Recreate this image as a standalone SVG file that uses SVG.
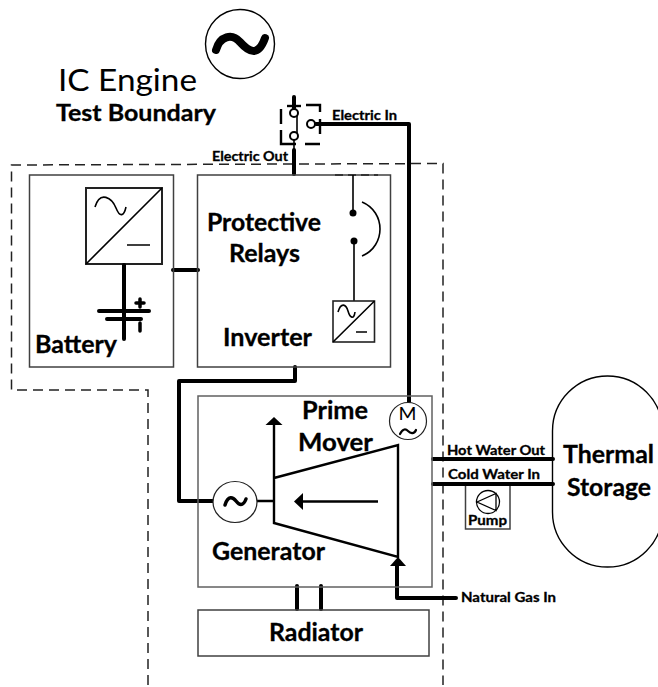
<svg xmlns="http://www.w3.org/2000/svg" width="658" height="687" viewBox="0 0 658 687">
<style>
text{font-family:Lato,"Open Sans",sans-serif;font-weight:700;fill:#000;stroke:#000;stroke-width:.3}
.box{fill:none;stroke:#404040;stroke-width:1.5}
.thin{fill:none;stroke:#000;stroke-width:1.6}
.med{fill:none;stroke:#000;stroke-width:2.4}
.thick{fill:none;stroke:#000;stroke-width:4;stroke-linejoin:round;stroke-linecap:round}
.dash{fill:none;stroke:#222;stroke-width:1.5;stroke-dasharray:10 6}
.t25{font-size:24px}
.t14{font-size:13.500px}
</style>
<rect width="658" height="687" fill="#fff"/>
<g id="boundary">
<path class="dash" d="M148 685V390H11.500V165L443 163.500V685"/>
</g>
<g id="connectors">
<path class="thick" d="M294 97V108"/>
<path class="med" d="M287 106H301"/>
<path class="thin" d="M297 113V136M294 140V149"/>
<path class="thick" d="M294 150V174"/>
<path class="thick" d="M316 124H409V403"/>
<path class="thick" d="M173 270H198"/>
<path class="thick" d="M295 367V381H179V501H213"/>
<path class="thick" d="M297 586V609M321 586V609"/>
<path class="thick" d="M397 566V598H456"/>
<path class="thick" d="M433 459H553M433 484H553"/>
</g>
<g id="ac-source">
<circle cx="240" cy="44" r="34.500" fill="none" stroke="#000" stroke-width="1.400"/>
<path d="M216 50C220 36 232 33 240 42S258 58 265 38" fill="none" stroke="#000" stroke-width="8" stroke-linecap="round"/>
</g>
<g id="title">
<text x="58" y="91" style="font-weight:400;font-size:31px;stroke-width:0" textLength="139" lengthAdjust="spacingAndGlyphs">IC Engine</text>
<text x="56" y="121" style="font-size:23px" textLength="160" lengthAdjust="spacingAndGlyphs">Test Boundary</text>
</g>
<g id="switch">
<path class="med" d="M281 109V124M281 130V144H296M305 144H320M320 134V119M320 112V105H306"/>
<circle cx="294" cy="113" r="4" fill="#fff" stroke="#000" stroke-width="2"/>
<circle cx="294" cy="136" r="4" fill="#fff" stroke="#000" stroke-width="2"/>
<circle cx="311" cy="124" r="4" fill="#fff" stroke="#000" stroke-width="2"/>
<text class="t14" x="332" y="120" textLength="65" lengthAdjust="spacingAndGlyphs">Electric In</text>
<text class="t14" x="212" y="161" textLength="76" lengthAdjust="spacingAndGlyphs">Electric Out</text>
</g>
<g id="battery">
<rect class="box" x="29.500" y="175" width="144" height="192"/>
<rect x="86" y="188" width="76" height="76" fill="none" stroke="#222" stroke-width="2"/>
<path class="thin" d="M86 264L162 188M127 245H150"/>
<path class="thin" d="M95 207C100 190 112 198 116 208S124 216 126 207"/>
<path class="thick" d="M124 265V339"/>
<path class="thick" d="M99 311H149M107 319H141"/>
<path d="M140 299V307M136 303H144M140 323V331" fill="none" stroke="#000" stroke-width="3.500" stroke-linecap="round"/>
<text class="t25" x="35" y="353" textLength="82" lengthAdjust="spacingAndGlyphs">Battery</text>
</g>
<g id="inverter">
<rect class="box" x="197.500" y="175" width="193" height="192"/>
<path d="M335 175H378" fill="none" stroke="#222" stroke-width="1.500" stroke-dasharray="8 5"/>
<path class="thin" d="M353 175V213M354 241V301M362 202C386 212 386 246 362 256"/>
<circle cx="353" cy="213" r="3.500"/>
<circle cx="354" cy="241" r="3.500"/>
<rect x="333" y="301" width="41.500" height="41" fill="none" stroke="#222" stroke-width="1.600"/>
<path class="thin" d="M333 342L374.500 301M356 332H367"/>
<path class="thin" d="M338 312C341 302 346 304 348 311S354 320 355 312"/>
<text class="t25" x="207" y="231" textLength="114" lengthAdjust="spacingAndGlyphs">Protective</text>
<text class="t25" x="229" y="262" textLength="71" lengthAdjust="spacingAndGlyphs">Relays</text>
<text class="t25" x="223" y="346" textLength="89" lengthAdjust="spacingAndGlyphs">Inverter</text>
</g>
<g id="prime-mover">
<rect x="198" y="396" width="234" height="191" fill="none" stroke="#606060" stroke-width="1.500"/>
<path class="med" d="M274 478L398 445V557L274 523ZM274 478V424M257 501H274"/>
<path d="M274 417L282.500 425H265.500Z"/>
<path class="med" d="M378 501.500H302"/>
<path d="M294 501.500L303 493V510Z"/>
<path d="M398 557L406 566H390Z"/>
<text class="t25" x="302" y="419" textLength="66" lengthAdjust="spacingAndGlyphs">Prime</text>
<text class="t25" x="298" y="451" textLength="75" lengthAdjust="spacingAndGlyphs">Mover</text>
<text class="t25" x="212" y="560" textLength="113" lengthAdjust="spacingAndGlyphs">Generator</text>
</g>
<g id="generator">
<ellipse cx="235" cy="502" rx="22" ry="20.500" fill="#fff" stroke="#222" stroke-width="1.200"/>
<path d="M225 505C228 495 233 497 236 501S243 507 246 499" fill="none" stroke="#000" stroke-width="3.500" stroke-linecap="round"/>
</g>
<g id="motor">
<circle cx="408" cy="421" r="18.500" fill="#fff" stroke="#222" stroke-width="1.200"/>
<text x="398.500" y="420" style="font-weight:400;font-size:18px;stroke-width:0" textLength="18" lengthAdjust="spacingAndGlyphs">M</text>
<path d="M400 434C403 428 406 429 408 431S414 435 416 430" fill="none" stroke="#000" stroke-width="2.200" stroke-linecap="round"/>
</g>
<g id="radiator">
<rect class="box" x="198" y="610" width="231" height="46"/>
<text class="t25" x="269" y="641" textLength="94" lengthAdjust="spacingAndGlyphs">Radiator</text>
</g>
<g id="natural-gas">
<text class="t14" x="461" y="602" textLength="95" lengthAdjust="spacingAndGlyphs">Natural Gas In</text>
</g>
<g id="water-labels">
<text class="t14" x="447" y="455" textLength="98" lengthAdjust="spacingAndGlyphs">Hot Water Out</text>
<text class="t14" x="448" y="479" textLength="92" lengthAdjust="spacingAndGlyphs">Cold Water In</text>
</g>
<g id="pump">
<path d="M465.500 486V529H510V486" fill="none" stroke="#404040" stroke-width="1.500"/>
<circle cx="488" cy="502" r="11.500" fill="none" stroke="#000" stroke-width="1.300"/>
<path d="M477 502L496 493.500V510.500Z" fill="none" stroke="#000" stroke-width="1.300"/>
<text x="468" y="525" style="font-size:13px" textLength="39" lengthAdjust="spacingAndGlyphs">Pump</text>
</g>
<g id="thermal-storage">
<rect x="552.500" y="376" width="110" height="191" rx="55" ry="55" fill="none" stroke="#000" stroke-width="1.400"/>
<text class="t25" x="563" y="463" textLength="91" lengthAdjust="spacingAndGlyphs">Thermal</text>
<text class="t25" x="567" y="496" textLength="84" lengthAdjust="spacingAndGlyphs">Storage</text>
</g>
</svg>
